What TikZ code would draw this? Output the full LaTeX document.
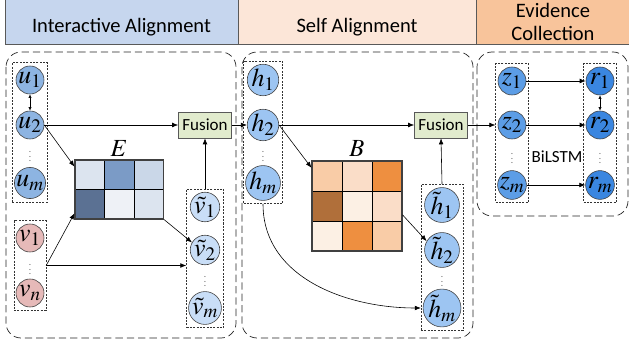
\documentclass[tikz,border=0pt]{standalone}
\usepackage{mathptmx}
\usepackage[no-math]{fontspec}
\setmainfont{Carlito}
\usetikzlibrary{arrows.meta}
\usetikzlibrary{fit}

\definecolor{hdrblue}{HTML}{C6D6EE}
\definecolor{hdrpeach}{HTML}{FCE6D8}
\definecolor{hdrorange}{HTML}{F8C49B}
\definecolor{ublue}{HTML}{8DB4E2}
\definecolor{vpink}{HTML}{E6B9B8}
\definecolor{vtblue}{HTML}{C9DEF7}
\definecolor{hblue}{HTML}{9DC5F2}
\definecolor{zblue}{HTML}{5C9DE6}
\definecolor{rblue}{HTML}{3A86E0}
\definecolor{fusgreen}{HTML}{E1EBCD}
\definecolor{eA}{HTML}{DCE4EF}
\definecolor{eB}{HTML}{7B9BC6}
\definecolor{eC}{HTML}{CAD7E8}
\definecolor{eD}{HTML}{5B7193}
\definecolor{eE}{HTML}{EEF1F6}
\definecolor{bA}{HTML}{F9CCA7}
\definecolor{bB}{HTML}{FADDC8}
\definecolor{bC}{HTML}{EE8F40}
\definecolor{bD}{HTML}{B06F3A}
\definecolor{bE}{HTML}{FCF0E4}

\tikzset{
    tok/.style={circle, draw=black!75, line width=0.5pt, minimum size=8.4mm, inner sep=0pt,
        font=\fontsize{22}{22}\selectfont},
    colbox/.style={draw=black!80, dash pattern=on 0.6mm off 0.4mm, line width=0.4pt,
        inner xsep=0.5mm, inner ysep=0.9mm},
    stage/.style={draw=black!85, rounded corners=4.5mm, line width=0.6pt, dash pattern=on 2.2mm off 1.2mm},
    hdr/.style={draw=black!65, line width=0.6pt},
    fusbox/.style={draw=black!65, fill=fusgreen, line width=0.5pt, minimum width=15.9mm,
        minimum height=7.8mm, inner sep=0pt, font=\fontsize{14.5}{14.5}\selectfont},
    cell/.style={draw=black, line width=0.6pt},
    matbox/.style={draw=black!75, line width=0.9pt, inner sep=0pt},
    dotsnode/.style={text=black!60, inner sep=0pt, font=\fontsize{8}{8}\selectfont},
    arr/.style={-{Latex[length=1.8mm, width=1.4mm]}, line width=0.5pt},
    darr/.style={{Latex[length=1.1mm, width=1mm]}-{Latex[length=1.1mm, width=1mm]}, line width=0.5pt},
}

\begin{document}
\begin{tikzpicture}[x=0.3mm, y=-0.3mm]
    \useasboundingbox (0,0) rectangle (629,347);

    % Headers
    \draw[hdr, fill=hdrblue] (5,-10) rectangle (238,44);
    \node[font=\fontsize{17.5}{17.5}\selectfont] (ia) at (121.5,27) {Interactive Alignment};
    \draw[hdr, fill=hdrpeach] (238,-10) rectangle (476,44);
    \node[font=\fontsize{17.5}{17.5}\selectfont] (sa) at (357,27) {Self Alignment};
    \draw[hdr, fill=hdrorange] (476,-10) rectangle (640,44);
    \node[font=\fontsize{17.5}{20}\selectfont, align=center] (ec) at (553,22) {Evidence\\Collection};

    % Stages
    \draw[stage] (6,52) rectangle (236,338);
    \draw[stage] (242,52) rectangle (473,338);
    \draw[stage] (477,52) rectangle (628,216);

    % Interactive alignment: inputs
    \node[tok, fill=ublue] (u1) at (30,80) {$u_1$};
    \node[tok, fill=ublue] (u2) at (30,125) {$u_2$};
    \node[dotsnode] (udots) at (30,153) {$\vdots$};
    \node[tok, fill=ublue] (um) at (30,183) {$u_m$};
    \node[colbox, fit=(u1)(um)] (ucol) {};

    \node[tok, fill=vpink] (v1) at (30,238) {$v_1$};
    \node[dotsnode] (vdots) at (30,266) {$\vdots$};
    \node[tok, fill=vpink] (vn) at (30,293) {$v_n$};
    \node[colbox, fit=(v1)(vn)] (vcol) {};

    % Matrix E
    \foreach \cx/\cy/\clr in {0/0/eA, 1/0/eB, 2/0/eC, 0/1/eD, 1/1/eE, 2/1/eA}
        \draw[cell, fill=\clr] (75+\cx*29.5,160+\cy*29.5) rectangle ++(29.5,29.5);
    \node[matbox, minimum width=26.55mm, minimum height=17.7mm] (emat) at (119.25,189.5) {};
    \node[font=\fontsize{21}{21}\selectfont] (elbl) at (119,149) {$E$};

    % Interactive alignment: outputs
    \node[tok, fill=vtblue] (vt1) at (205,207) {$\tilde{v}_1$};
    \node[tok, fill=vtblue] (vt2) at (205,250) {$\tilde{v}_2$};
    \node[dotsnode] (vtdots) at (205,278) {$\vdots$};
    \node[tok, fill=vtblue] (vtm) at (205,308) {$\tilde{v}_m$};
    \node[colbox, fit=(vt1)(vtm)] (vtcol) {};
    \node[fusbox] (fus1) at (205,125) {Fusion};

    \draw[darr] (u1) -- (u2);
    \draw[arr] (u2.east) -- (fus1.west);
    \draw[arr] (u2.east) -- (emat.153);
    \draw[arr] (vcol.east) -- (emat.208);
    \draw[arr] (vcol.east) -- (vcol.east -| vtcol.west);
    \draw[arr] (emat.south east) -- (vt2.150);
    \draw[arr] (vtcol.north) -- (fus1.south);

    % Self alignment
    \node[tok, fill=hblue] (h1) at (263,80) {$h_1$};
    \node[tok, fill=hblue] (h2) at (263,125) {$h_2$};
    \node[dotsnode] (hdots) at (263,153) {$\vdots$};
    \node[tok, fill=hblue] (hm) at (263,183) {$h_m$};
    \node[colbox, fit=(h1)(hm)] (hcol) {};

    % Matrix B
    \foreach \cx/\cy/\clr in {0/0/bA, 1/0/bB, 2/0/bC, 0/1/bD, 1/1/bE, 2/1/bB, 0/2/bE, 1/2/bC, 2/2/bA}
        \draw[cell, fill=\clr] (312+\cx*30,161+\cy*30) rectangle ++(30,30);
    \node[matbox, minimum width=27mm, minimum height=27mm] (bmat) at (357,206) {};
    \node[font=\fontsize{21}{21}\selectfont] (blbl) at (357,149) {$B$};

    \node[tok, fill=hblue] (ht1) at (442,205) {$\tilde{h}_1$};
    \node[tok, fill=hblue] (ht2) at (442,250) {$\tilde{h}_2$};
    \node[dotsnode] (htdots) at (442,278) {$\vdots$};
    \node[tok, fill=hblue] (htm) at (442,308) {$\tilde{h}_m$};
    \node[colbox, fit=(ht1)(htm)] (htcol) {};
    \node[fusbox] (fus2) at (441,125) {Fusion};

    \draw[arr] (fus1.east) -- (h2.west);
    \draw[arr] (h2.east) -- (fus2.west);
    \draw[arr] (h2.east) -- (bmat.140);
    \draw[arr] (bmat.349) -- (ht2.150);
    \draw[arr] (htcol.north) -- (fus2.south);
    \draw[arr] (hcol.south) to[out=-90, in=180] (htcol.west |- htm);

    % Evidence collection
    \node[tok, fill=zblue] (z1) at (512,81) {$z_1$};
    \node[tok, fill=zblue] (z2) at (512,125) {$z_2$};
    \node[dotsnode] (zdots) at (512,155) {$\vdots$};
    \node[tok, fill=zblue] (zm) at (512,185) {$z_m$};
    \node[colbox, fit=(z1)(zm)] (zcol) {};

    \node[tok, fill=rblue] (r1) at (600,81) {$r_1$};
    \node[tok, fill=rblue] (r2) at (600,125) {$r_2$};
    \node[dotsnode] (rdots) at (600,155) {$\vdots$};
    \node[tok, fill=rblue] (rm) at (600,185) {$r_m$};
    \node[colbox, fit=(r1)(rm)] (rcol) {};
    \node[font=\fontsize{14.5}{14.5}\selectfont] (lstm) at (557,157) {BiLSTM};

    \draw[arr] (fus2.east) -- (zcol.west |- z2);
    \draw[arr] (z1) -- (r1);
    \draw[arr] (z2) -- (r2);
    \draw[arr] (zm) -- (rm);
    \draw[darr] (r1) -- (r2);
\end{tikzpicture}
\end{document}
